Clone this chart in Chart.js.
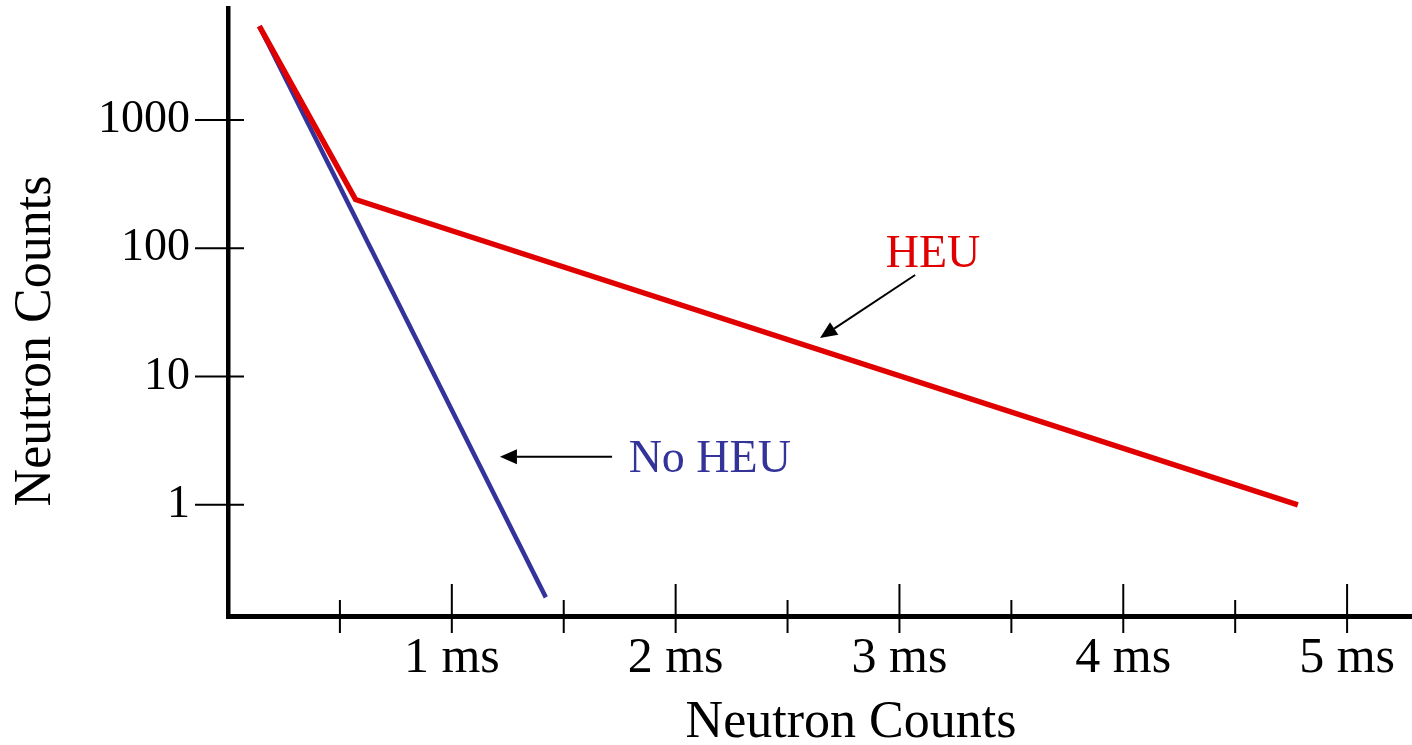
<!DOCTYPE html>
<html>
<head>
<meta charset="utf-8">
<title>Neutron Counts</title>
<script src="https://cdn.jsdelivr.net/npm/chart.js@4/dist/chart.umd.min.js"></script>
<style>
  html, body { margin: 0; padding: 0; background: #fff; }
  canvas { display: block; }
</style>
</head>
<body>
<canvas id="decayChart" width="1412" height="745"></canvas>
<script>
// Valores (tempo em ms, contagens em escala log)
const heuTimes = [0.14, 0.57, 4.78];
const heuCounts = [5400, 240, 1.0];
const noHeuTimes = [0.14, 1.42];
const noHeuCounts = [5400, 0.19];

const xTickValues = [0.5, 1, 1.5, 2, 2.5, 3, 3.5, 4, 4.5, 5];
const xTickLabels = ['', '1 ms', '', '2 ms', '', '3 ms', '', '4 ms', '', '5 ms'];
const yTickValues = [1, 10, 100, 1000];
const yTickLabels = ['1', '10', '100', '1000'];

const xTitle = 'Neutron Counts';
const yTitle = 'Neutron Counts';

const RED = '#e00000';
const BLUE = '#333399';
const SERIF = "'Liberation Serif', 'Times New Roman', serif";

// Rótulos com seta (posições em coordenadas dos dados)
const notes = [
    { text: 'HEU', color: RED, x: 3.15, y: 72, align: 'center', from: [3.07, 62], to: [2.645, 20] },
    { text: 'No HEU', color: BLUE, x: 1.79, y: 1.81, align: 'left', from: [1.716, 2.37], to: [1.215, 2.37] }
];

function toPoints(xs, ys) {
    return xs.map((v, i) => ({ x: v, y: ys[i] }));
}

// Marcas de escala que cruzam o eixo, títulos dos eixos, setas e rótulos
const decorPlugin = {
    id: 'decor',
    afterDraw(chart) {
        const { ctx, chartArea, scales: { x, y } } = chart;
        ctx.save();
        ctx.strokeStyle = '#000';
        ctx.lineWidth = 2;
        ctx.beginPath();
        yTickValues.forEach(v => {
            const py = y.getPixelForValue(v);
            ctx.moveTo(chartArea.left - 33, py);
            ctx.lineTo(chartArea.left + 16, py);
        });
        xTickValues.forEach(v => {
            const px = x.getPixelForValue(v);
            const inner = Number.isInteger(v) ? 32 : 16;
            ctx.moveTo(px, chartArea.bottom - inner);
            ctx.lineTo(px, chartArea.bottom + 17);
        });
        ctx.stroke();

        // títulos dos eixos (deslocados como no original)
        ctx.fillStyle = '#000';
        ctx.font = '52px ' + SERIF;
        ctx.textAlign = 'center';
        ctx.textBaseline = 'alphabetic';
        ctx.fillText(xTitle, chartArea.left + 623, chart.height - 8);
        ctx.save();
        ctx.translate(50, chartArea.top + 333);
        ctx.rotate(-Math.PI / 2);
        ctx.fillText(yTitle, 0, 0);
        ctx.restore();

        notes.forEach(n => {
            const x1 = x.getPixelForValue(n.from[0]);
            const y1 = y.getPixelForValue(n.from[1]);
            const x2 = x.getPixelForValue(n.to[0]);
            const y2 = y.getPixelForValue(n.to[1]);
            const ang = Math.atan2(y2 - y1, x2 - x1);
            const len = 17, half = 7.5;
            const bx = x2 - len * Math.cos(ang);
            const by = y2 - len * Math.sin(ang);
            ctx.strokeStyle = '#000';
            ctx.lineWidth = 2;
            ctx.beginPath();
            ctx.moveTo(x1, y1);
            ctx.lineTo(bx, by);
            ctx.stroke();
            ctx.fillStyle = '#000';
            ctx.beginPath();
            ctx.moveTo(x2, y2);
            ctx.lineTo(bx + half * Math.sin(ang), by - half * Math.cos(ang));
            ctx.lineTo(bx - half * Math.sin(ang), by + half * Math.cos(ang));
            ctx.closePath();
            ctx.fill();

            ctx.fillStyle = n.color;
            ctx.font = '46px ' + SERIF;
            ctx.textAlign = n.align;
            ctx.textBaseline = 'alphabetic';
            ctx.fillText(n.text, x.getPixelForValue(n.x), y.getPixelForValue(n.y));
        });
        ctx.restore();
    }
};

const ctx = document.getElementById('decayChart').getContext('2d');
const decayChart = new Chart(ctx, {
    type: 'line',
    data: {
        datasets: [{
            label: 'HEU',
            data: toPoints(heuTimes, heuCounts),
            borderColor: RED,
            borderWidth: 5.5,
            pointRadius: 0,
            tension: 0
        }, {
            label: 'No HEU',
            data: toPoints(noHeuTimes, noHeuCounts),
            borderColor: BLUE,
            borderWidth: 4.5,
            pointRadius: 0,
            tension: 0
        }]
    },
    options: {
        responsive: false,
        animation: false,
        devicePixelRatio: 1,
        layout: { padding: { top: 8, left: 0, right: 0, bottom: 0 } },
        plugins: {
            legend: { display: false },
            tooltip: { enabled: false }
        },
        scales: {
            x: {
                type: 'linear',
                min: 0,
                max: 5.29,
                grid: { display: false, drawTicks: false },
                border: { display: true, color: '#000', width: 5 },
                ticks: {
                    color: '#000',
                    padding: 18,
                    maxRotation: 0,
                    autoSkip: false,
                    font: { family: SERIF, size: 50, lineHeight: 1 },
                    callback: (value, index) => xTickLabels[index]
                },
                afterBuildTicks: scale => {
                    scale.ticks = xTickValues.map(v => ({ value: v }));
                },
                afterFit: scale => {
                    scale.height = 129;
                    scale.paddingLeft = 0;
                    scale.paddingRight = 0;
                }
            },
            y: {
                type: 'logarithmic',
                min: 0.136,
                max: 7480,
                grid: { display: false, drawTicks: false },
                border: { display: true, color: '#000', width: 4.5 },
                ticks: {
                    color: '#000',
                    padding: 38,
                    autoSkip: false,
                    font: { family: SERIF, size: 46, lineHeight: 1 },
                    callback: (value, index) => yTickLabels[index]
                },
                afterBuildTicks: scale => {
                    scale.ticks = yTickValues.map(v => ({ value: v }));
                },
                afterFit: scale => {
                    scale.width = 228;
                    scale.paddingTop = 0;
                    scale.paddingBottom = 0;
                }
            }
        }
    },
    plugins: [decorPlugin]
});
</script>
</body>
</html>
